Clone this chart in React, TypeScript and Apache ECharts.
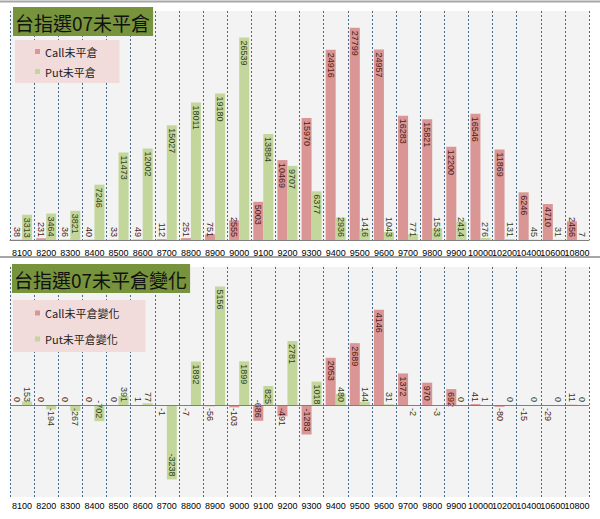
import React, { useEffect, useRef } from "react";
import * as echarts from "echarts";

const categories = [
  "8100", "8200", "8300", "8400", "8500", "8600", "8700", "8800", "8900", "9000",
  "9100", "9200", "9300", "9400", "9500", "9600", "9700", "9800", "9900", "10000",
  "10200", "10400", "10600", "10800",
];

const callOI = [38, 231, 36, 40, 33, 49, 112, 251, 751, 2555, 5003, 10469, 15970, 24916, 27799, 24957, 16283, 15821, 12200, 16546, 11869, 6246, 4710, 2456];
const putOI = [3313, 3464, 3821, 7246, 11473, 12002, 15027, 18011, 19180, 26539, 13884, 9707, 6377, 2936, 1416, 1043, 771, 1533, 2414, 276, 131, 45, 31, 7];

const callChg = [0, 0, 0, 0, 0, 1, -1, -7, -56, -103, -686, -491, -1283, 2053, 2689, 4146, 1372, 970, 692, 41, -80, -15, -29, 11];
const putChg = [153, -194, -267, -702, 391, 77, -3238, 1892, 5156, 1899, 825, 2781, 1018, 480, 144, 31, -2, -3, 0, 1, 0, 0, 0, 0];

const titleTop = "台指選07未平倉";
const titleBottom = "台指選07未平倉變化";
const namesTop = ["Call未平倉", "Put未平倉"];
const namesBottom = ["Call未平倉變化", "Put未平倉變化"];

const CALL_COLOR = "#D99694";
const PUT_COLOR = "#C3D69B";
const CALL_TEXT = "#4d1a1a";
const PUT_TEXT = "#33421a";
const CJK = "'Noto Sans CJK TC', 'Noto Sans CJK SC', sans-serif";
const NUM = "'Liberation Sans', Arial, sans-serif";

function withLabels(values: number[], threshold: number) {
  return values.map((v) => {
    const big = Math.abs(v) >= threshold;
    let position: string;
    let align: string;
    if (v > 0 && big) {
      position = "insideTop";
      align = "left";
    } else if (v >= 0) {
      position = "insideBottom";
      align = "right";
    } else if (big) {
      position = "insideBottom";
      align = "right";
    } else {
      position = "insideTop";
      align = "left";
    }
    return { value: v, label: { position, align } };
  });
}

function baseLabel(color: string) {
  return {
    show: true,
    rotate: -90,
    verticalAlign: "middle",
    fontSize: 9,
    fontFamily: NUM,
    color,
    distance: 3,
  };
}

function xAxisFor(gridIndex: number, margin: number, showLine: boolean) {
  return {
    type: "category",
    gridIndex,
    data: categories,
    boundaryGap: true,
    axisLine: { show: showLine, onZero: false, lineStyle: { color: "#7f7f7f", width: 1 } },
    axisTick: { show: false },
    axisLabel: { interval: 0, margin, fontSize: 9, fontFamily: NUM, color: "#000" },
    splitLine: {
      show: true,
      interval: 0,
      lineStyle: { color: "#4a6a8a", type: [2, 2], width: 1 },
    },
  };
}

export default function App() {
  const ref = useRef<HTMLDivElement>(null);

  useEffect(() => {
    if (!ref.current) return;
    const chart = echarts.init(ref.current, null, { renderer: "svg" });
    const option: any = {
      animation: false,
      backgroundColor: "#ffffff",
      title: [
        {
          text: titleTop,
          left: 13,
          top: 7,
          backgroundColor: "#77933C",
          padding: [3, 3, 2, 2],
          textStyle: { fontSize: 19, fontFamily: CJK, fontWeight: "normal", color: "#111", lineHeight: 24 },
        },
        {
          text: titleBottom,
          left: 12,
          top: 264,
          backgroundColor: "#77933C",
          padding: [3, 3, 2, 2],
          textStyle: { fontSize: 19, fontFamily: CJK, fontWeight: "normal", color: "#111", lineHeight: 24 },
        },
      ],
      legend: [
        {
          data: namesTop,
          orient: "vertical",
          left: 15,
          top: 40,
          backgroundColor: "#F2DCDB",
          padding: [5.5, 22, 5.5, 20],
          itemGap: 8,
          itemWidth: 5,
          itemHeight: 5,
          icon: "rect",
          textStyle: { fontSize: 11, fontFamily: CJK, color: "#222", lineHeight: 12 },
        },
        {
          data: namesBottom,
          orient: "vertical",
          left: 13,
          top: 300,
          backgroundColor: "#F2DCDB",
          padding: [7, 26, 7, 22],
          itemGap: 14,
          itemWidth: 5,
          itemHeight: 5,
          icon: "rect",
          textStyle: { fontSize: 11, fontFamily: CJK, color: "#222", lineHeight: 12 },
        },
      ],
      graphic: [
        { type: "line", shape: { x1: 0, y1: 1.5, x2: 600, y2: 1.5 }, style: { stroke: "#a6a6a6", lineWidth: 2 }, silent: true },
        { type: "line", shape: { x1: 0, y1: 257, x2: 600, y2: 257 }, style: { stroke: "#a6a6a6", lineWidth: 2 }, silent: true },
      ],
      grid: [
        { left: 10, right: 11, top: 11, height: 229, show: true, backgroundColor: "#F3F3F3", borderWidth: 0 },
        { left: 10, right: 11, top: 267, height: 230, show: true, backgroundColor: "#F3F3F3", borderWidth: 0 },
      ],
      xAxis: [xAxisFor(0, 8, true), xAxisFor(1, 4, false)],
      yAxis: [
        { type: "value", gridIndex: 0, min: 0, max: 30000, show: false, splitLine: { show: false } },
        { type: "value", gridIndex: 1, min: -4000, max: 6000, show: false, splitLine: { show: false } },
      ],
      series: [
        {
          name: namesTop[0],
          type: "bar",
          xAxisIndex: 0,
          yAxisIndex: 0,
          barWidth: 10,
          barGap: "0%",
          itemStyle: { color: CALL_COLOR },
          label: baseLabel(CALL_TEXT),
          data: withLabels(callOI, 3000),
        },
        {
          name: namesTop[1],
          type: "bar",
          xAxisIndex: 0,
          yAxisIndex: 0,
          barWidth: 10,
          barGap: "0%",
          itemStyle: { color: PUT_COLOR },
          label: baseLabel(PUT_TEXT),
          data: withLabels(putOI, 3000),
        },
        {
          name: namesBottom[0],
          type: "bar",
          xAxisIndex: 1,
          yAxisIndex: 1,
          barWidth: 10,
          barGap: "0%",
          itemStyle: { color: CALL_COLOR },
          label: baseLabel(CALL_TEXT),
          data: withLabels(callChg, 600),
          markLine: {
            silent: true,
            symbol: "none",
            label: { show: false },
            lineStyle: { color: "#7f7f7f", type: "solid", width: 1 },
            data: [{ yAxis: 0 }],
          },
        },
        {
          name: namesBottom[1],
          type: "bar",
          xAxisIndex: 1,
          yAxisIndex: 1,
          barWidth: 10,
          barGap: "0%",
          itemStyle: { color: PUT_COLOR },
          label: baseLabel(PUT_TEXT),
          data: withLabels(putChg, 600),
        },
      ],
    };
    chart.setOption(option);
    return () => chart.dispose();
  }, []);

  return (
    <div
      ref={ref}
      style={{ position: "absolute", left: 0, top: 0, width: 600, height: 519 }}
    />
  );
}
